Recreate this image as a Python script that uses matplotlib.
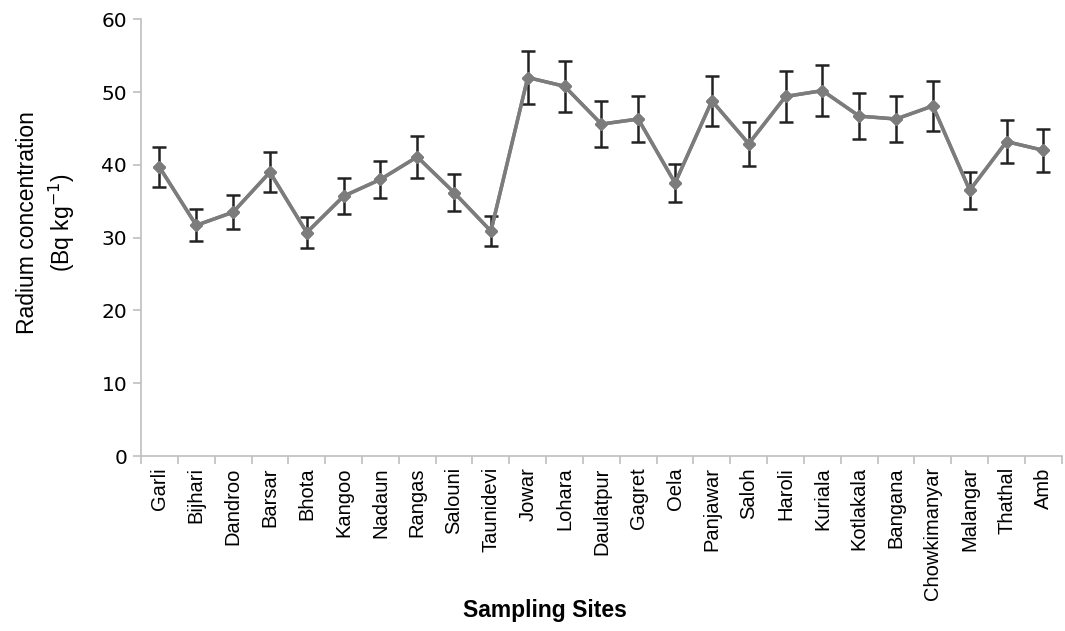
import numpy as np
import matplotlib.pyplot as plt

sites = ["Garli", "Bijhari", "Dandroo", "Barsar", "Bhota", "Kangoo", "Nadaun",
         "Rangas", "Salouni", "Taunidevi", "Jowar", "Lohara", "Daulatpur",
         "Gagret", "Oela", "Panjawar", "Saloh", "Haroli", "Kuriala",
         "Kotlakala", "Bangana", "Chowkimanyar", "Malangar", "Thathal", "Amb"]
radium = [39.7, 31.7, 33.5, 39.0, 30.7, 35.7, 38.0, 41.1, 36.2, 30.9, 52.0,
          50.8, 45.6, 46.3, 37.5, 48.8, 42.9, 49.4, 50.2, 46.7, 46.3, 48.1,
          36.5, 43.2, 42.0]
errors = [2.8, 2.2, 2.35, 2.75, 2.1, 2.5, 2.6, 2.9, 2.5, 2.1, 3.6, 3.5, 3.2,
          3.2, 2.6, 3.4, 3.0, 3.45, 3.5, 3.2, 3.2, 3.4, 2.5, 3.0, 2.95]
y_ticks = [0, 10, 20, 30, 40, 50, 60]

narrow = ["Liberation Sans", "DejaVu Sans"]

fig = plt.figure(figsize=(10.65, 6.31), dpi=100)
ax = fig.add_axes([0.1324, 0.2773, 0.8646, 0.6921])

x = np.arange(len(sites))
ax.errorbar(x, radium, yerr=errors, color="#7c7c7c", lw=2.5, marker="D",
            ms=6.5, mfc="#7c7c7c", mec="#7c7c7c", ecolor="#222222",
            elinewidth=1.8, capsize=5, capthick=1.8, zorder=3)
# line and markers on top of the error bars
ax.plot(x, radium, color="#7c7c7c", lw=2.5, marker="D", ms=6.5, zorder=4)

ax.set_xlim(-0.5, len(sites) - 0.5)
ax.set_ylim(0, 60)
ax.set_yticks(y_ticks)
ax.set_yticklabels([str(v) for v in y_ticks], fontsize=14.5, family="DejaVu Sans")

ax.set_xticks(x)
ax.set_xticklabels(sites, rotation=90, fontsize=14.5, family=narrow)
ax.set_xticks(np.arange(len(sites) + 1) - 0.5, minor=True)
ax.tick_params(axis="x", which="major", length=0, pad=8)
ax.tick_params(axis="x", which="minor", length=6, color="#bfbfbf", width=1.2)
ax.tick_params(axis="y", length=6, color="#bfbfbf", width=1.2, pad=4)

for side in ["top", "right"]:
    ax.spines[side].set_visible(False)
for side in ["left", "bottom"]:
    ax.spines[side].set_color("#bfbfbf")
    ax.spines[side].set_linewidth(1.2)

ax.set_ylabel("Radium concentration\n(Bq kg$^{-1}$)", fontsize=16.5,
              family=narrow, linespacing=1.3)
ax.yaxis.set_label_coords(-0.07, 0.535)
fig.text(0.512, 0.033, "Sampling Sites", ha="center", va="center",
         fontsize=16.5, fontweight="bold", family=narrow)

fig.savefig("out.png", dpi=100)
